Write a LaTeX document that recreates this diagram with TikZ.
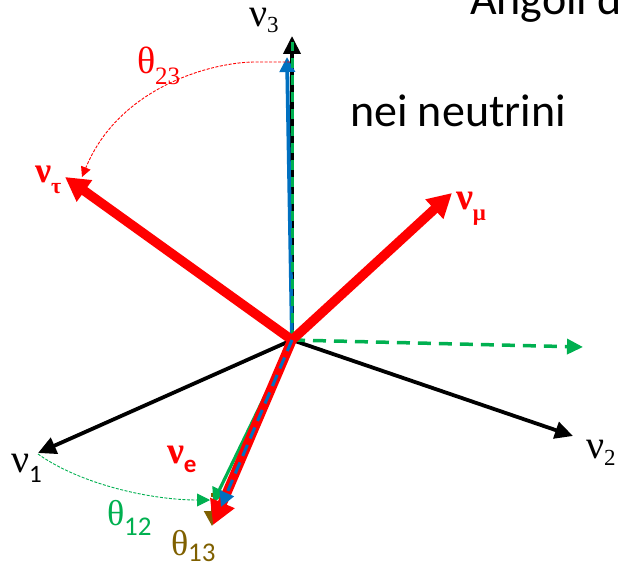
\documentclass[tikz,border=0pt]{standalone}
\usepackage{fontspec}
\setmainfont{Liberation Serif}
\newfontfamily\calib{Carlito}
\usetikzlibrary{arrows.meta}
\definecolor{ored}{RGB}{255,0,0}
\definecolor{ogreen}{RGB}{0,176,80}
\definecolor{oblue}{RGB}{0,112,192}
\definecolor{obrown}{RGB}{127,96,0}
\newcommand\lsub[2]{\raisebox{-#1}{#2}}
\tikzset{
  lbl/.style={anchor=base west, inner sep=0pt, outer sep=0pt},
  grk/.style={lbl, font=\fontsize{40}{40}\selectfont},
  blkvec/.style={draw=black, line width=3.8pt, -{Triangle[length=18pt,width=17pt]}},
  redvec/.style={draw=ored, line width=9.5pt, -{Triangle[length=24pt,width=25pt]}},
  gdash/.style={draw=ogreen, line width=3.5pt, dash pattern=on 13pt off 8pt},
  greenvec/.style={draw=ogreen, line width=3.2pt, -{Triangle[length=15pt,width=15pt]}},
  thinarc/.style={line width=0.9pt, dash pattern=on 3pt off 1.5pt},
}
\begin{document}
\begin{tikzpicture}[x=1pt,y=-1pt]
\useasboundingbox (0,0) rectangle (621,564);
% coordinates
\coordinate (O) at (292,340);
\coordinate (t1) at (38,453);
\coordinate (t2) at (573,436);
\coordinate (t3) at (292,36);
\coordinate (tg) at (583,347);
\coordinate (tgv) at (292,42);
\coordinate (tb3) at (287,57);
\coordinate (tgs) at (213,503);
\coordinate (tt) at (65,177);
\coordinate (tm) at (452,193);
\coordinate (te) at (213,525);
\coordinate (tbe) at (221,507);
\coordinate (bs) at (212,493);
\coordinate (bt) at (212,526);
\coordinate (a23s) at (290,62);
\coordinate (a23e) at (82,177);
\coordinate (a12s) at (38,454);
\coordinate (a12e) at (210,500);
% black mass axes
\draw[blkvec] (O) -- (t1);
\draw[blkvec] (O) -- (t2);
\draw[blkvec] (O) -- (t3);
% green dashed
\draw[gdash, -{Triangle[length=16pt,width=15pt,color=ogreen]}] (O) -- (tg);
\draw[oblue, line width=3.8pt, -{Triangle[length=15pt,width=15pt]}] (O) -- (tb3);
\draw[draw=ogreen, line width=3pt, dash pattern=on 10pt off 7pt] (O) -- (tgv);
% green solid near nu_e
\draw[greenvec] (O) -- (tgs);
% brown
\draw[draw=obrown, line width=2pt, dash pattern=on 4pt off 3pt, -{Triangle[length=15pt,width=16pt,color=obrown]}] (bs) -- (bt);
% red flavour vectors
\draw[redvec] (O) -- (tt);
\draw[redvec] (O) -- (tm);
\draw[redvec] (O) -- (te);
% blue dashed along nu_e
\draw[draw=oblue, line width=3pt, dash pattern=on 12pt off 7pt, -{Triangle[length=15pt,width=15pt,color=oblue]}] (O) -- (tbe);
% angle arcs
\draw[ored, thinarc, -{Triangle[length=10pt,width=10pt,color=ored]}] (a23s) -- (255,62) .. controls (215,62) and (120,85) .. (a23e);
\draw[ogreen, thinarc, -{Triangle[length=13pt,width=13pt,color=ogreen]}] (a12s) .. controls (80,484) and (150,500) .. (a12e);
% labels
\node[grk] (l3) at (249,27) {ν\lsub{6pt}{\fontsize{23}{23}\selectfont 3}};
\node[grk] (l1) at (11,472) {ν\lsub{10pt}{\calib\fontsize{25}{25}\selectfont 1}};
\node[grk] (l2) at (586,458) {ν\lsub{7pt}{\fontsize{23}{23}\selectfont 2}};
\node[grk, text=ored, font=\fontsize{38}{38}\selectfont] (l23) at (137,74) {θ\lsub{11pt}{\fontsize{25}{25}\selectfont 23}};
\node[grk, text=ogreen, font=\fontsize{36}{36}\selectfont] (l12) at (107,525) {θ\lsub{10pt}{\calib\fontsize{27}{27}\selectfont 12}};
\node[grk, text=obrown, font=\fontsize{36}{36}\selectfont] (l13) at (171,555) {θ\lsub{6pt}{\calib\fontsize{27}{27}\selectfont 13}};
\node[grk, text=ored, font=\fontsize{38}{38}\selectfont\bfseries] (le) at (167,463) {ν\lsub{9pt}{\calib\bfseries\fontsize{25}{25}\selectfont e}};
\node[grk, text=ored, font=\fontsize{36}{36}\selectfont\bfseries] (lt) at (35,183) {ν\lsub{10pt}{\fontsize{22}{22}\selectfont\bfseries τ}};
\node[grk, text=ored, font=\fontsize{38}{38}\selectfont\bfseries] (lm) at (456,210) {ν\lsub{11pt}{\fontsize{23}{23}\selectfont\bfseries μ}};
\node[lbl, font=\calib\fontsize{46}{46}\selectfont] (nei) at (350,127) {nei neutrini};
\node[lbl, font=\calib\fontsize{46}{46}\selectfont] (ang) at (470,15) {Angoli d};
\end{tikzpicture}
\end{document}
